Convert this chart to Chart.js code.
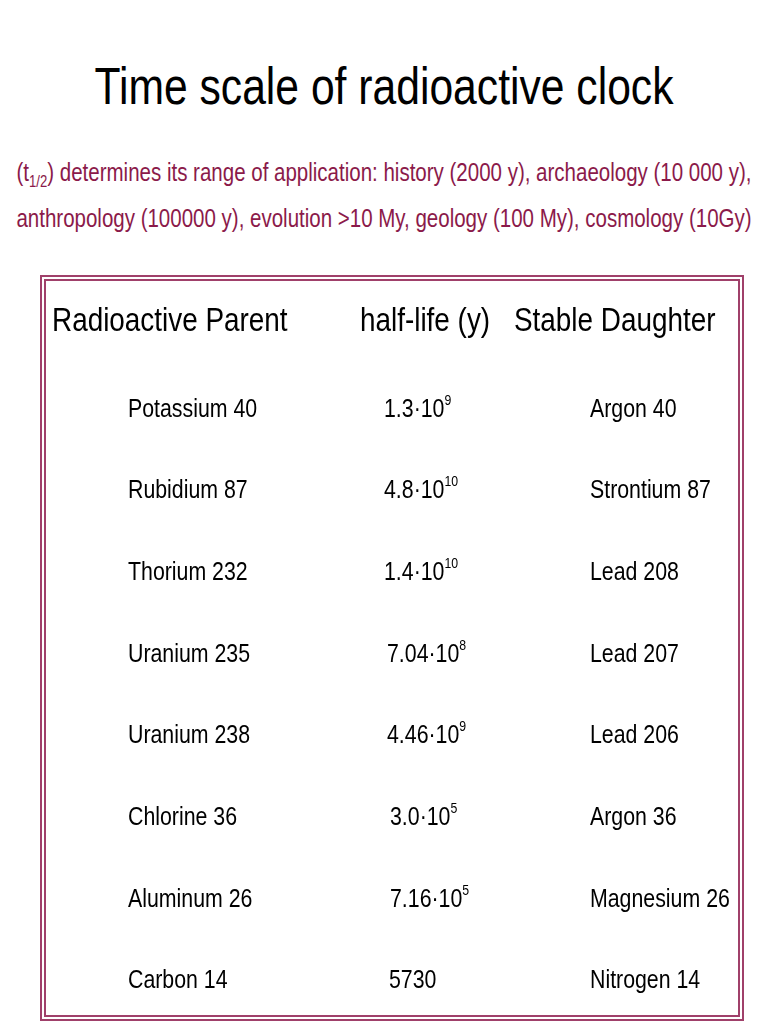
<!DOCTYPE html>
<html><head><meta charset="utf-8">
<script src="https://cdn.jsdelivr.net/npm/chart.js@4"></script>
<style>
  body { margin:0; width:768px; height:1024px; background:#fff; overflow:hidden; position:relative;
         font-family:"Liberation Sans",Arial,sans-serif; }
  h1 { position:absolute; top:56px; left:-116px; width:1000px; margin:0; text-align:center; font-weight:normal;
       font-size:52px; color:#000; white-space:nowrap; transform:scaleX(0.82); }
  .sub { position:absolute; left:-216px; width:1200px; text-align:center; font-size:25px; color:#8b1a4a; margin:0;
         white-space:nowrap; transform:scaleX(0.82); }
  .box { position:absolute; left:40px; top:275px; width:692px; height:734px;
         border:6px double #a0406a; }
  canvas { position:absolute; left:0; top:0; }
</style></head>
<body>
<h1>Time scale of radioactive clock</h1>
<p class="sub" style="top:158px">(t<sub style="font-size:16px">1/2</sub>) determines its range of application: history (2000 y), archaeology (10 000 y),</p>
<p class="sub" style="top:204px">anthropology (100000 y), evolution &gt;10 My, geology (100 My), cosmology (10Gy)</p>
<div class="box"><canvas id="c" width="692" height="734"></canvas></div>
<script>
const headers = ['Radioactive Parent', 'half-life (y)', 'Stable Daughter'];
const parents = ['Potassium 40','Rubidium 87','Thorium 232','Uranium 235','Uranium 238','Chlorine 36','Aluminum 26','Carbon 14'];
const halfMantissa = ['1.3·10','4.8·10','1.4·10','7.04·10','4.46·10','3.0·10','7.16·10','5730'];
const halfExponent = ['9','10','10','8','9','5','5',''];
const daughters = ['Argon 40','Strontium 87','Lead 208','Lead 207','Lead 206','Argon 36','Magnesium 26','Nitrogen 14'];

const FONT = '"Liberation Sans",Arial,sans-serif';
const SX = 0.82;
const colX = [82, 338, 544];
const headX = [6, 314, 468];
const halfX = [338,338,338,341,341,344,344,343];

function narrowText(ctx, text, x, y) {
  ctx.save();
  ctx.translate(x, y);
  ctx.scale(SX, 1);
  ctx.fillText(text, 0, 0);
  const w = ctx.measureText(text).width * SX;
  ctx.restore();
  return w;
}

const tablePlugin = {
  id: 'tablePlugin',
  afterDraw(chart) {
    const { ctx, scales } = chart;
    const y = scales.y, x = scales.x;
    ctx.save();
    ctx.fillStyle = '#000';
    ctx.textBaseline = 'middle';
    ctx.font = '34px ' + FONT;
    headers.forEach((h, i) => narrowText(ctx, h, x.getPixelForValue(headX[i]), y.getPixelForValue(-1.07)));
    parents.forEach((p, r) => {
      const py = y.getPixelForValue(r);
      ctx.font = '26px ' + FONT;
      narrowText(ctx, p, x.getPixelForValue(colX[0]), py);
      const hx = x.getPixelForValue(halfX[r]);
      const w = narrowText(ctx, halfMantissa[r], hx, py);
      if (halfExponent[r]) {
        ctx.font = '15px ' + FONT;
        narrowText(ctx, halfExponent[r], hx + w, py - 9);
        ctx.font = '26px ' + FONT;
      }
      narrowText(ctx, daughters[r], x.getPixelForValue(colX[2]), py);
    });
    ctx.restore();
  }
};

new Chart(document.getElementById('c'), {
  type: 'scatter',
  data: { datasets: [{ data: parents.map((p, i) => ({ x: colX[0], y: i })), pointRadius: 0 }] },
  options: {
    responsive: false, animation: false,
    layout: { padding: 0 },
    plugins: { legend: { display: false }, tooltip: { enabled: false } },
    scales: {
      x: { display: false, min: 0, max: 692 },
      y: { display: false, min: -1.573, max: 7.415, reverse: true }
    }
  },
  plugins: [tablePlugin]
});
</script>
</body></html>
